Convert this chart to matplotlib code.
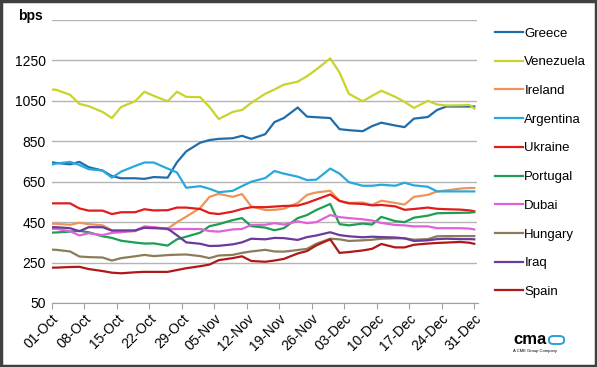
import matplotlib
matplotlib.use("Agg")
import matplotlib.pyplot as plt
import matplotlib.dates as mdates
from matplotlib.patches import Rectangle, FancyBboxPatch
import pandas as pd

plt.rcParams['font.family'] = ['Liberation Sans', 'DejaVu Sans']

# sample dates (2009), Oct 1 .. Dec 31
days = [0, 1, 4, 6, 8, 11, 13, 15, 18, 20, 22, 25, 27, 29, 32, 34, 36, 39, 41, 43,
        46, 48, 50, 53, 55, 57, 60, 62, 64, 67, 69, 71, 74, 76, 78, 81, 83, 85, 88, 90, 91]
dates = pd.Timestamp('2009-10-01') + pd.to_timedelta(days, unit='D')

greece = [746, 743, 736, 748, 722, 705, 678, 667, 667, 664, 673, 670, 746, 800, 843, 856, 862, 865, 877, 862,
          885, 945, 965, 1017, 972, 969, 965, 910, 905, 900, 925, 942, 928, 920, 962, 970, 1005, 1022, 1022, 1022, 1022]
venezuela = [1106, 1105, 1080, 1035, 1024, 995, 965, 1020, 1048, 1095, 1075, 1048, 1095, 1070, 1068, 1020, 960, 995, 1005, 1040,
             1085, 1106, 1130, 1145, 1172, 1205, 1260, 1190, 1085, 1048, 1075, 1100, 1070, 1045, 1015, 1050, 1032, 1027, 1028, 1030, 1012]
ireland = [442, 442, 437, 447, 440, 434, 410, 405, 405, 428, 425, 417, 450, 477, 520, 575, 590, 575, 589, 528,
           510, 511, 516, 545, 585, 597, 605, 555, 545, 547, 535, 556, 545, 537, 575, 585, 602, 607, 616, 619, 619]
argentina = [734, 740, 748, 733, 712, 705, 670, 700, 728, 745, 745, 715, 696, 620, 628, 615, 598, 605, 628, 650,
             668, 703, 690, 675, 658, 660, 715, 690, 648, 630, 630, 635, 630, 645, 632, 625, 602, 602, 602, 602, 602]
ukraine = [543, 543, 543, 518, 507, 507, 490, 499, 499, 514, 508, 509, 522, 522, 515, 495, 490, 502, 515, 524,
           524, 527, 530, 532, 545, 562, 587, 555, 543, 540, 533, 535, 528, 511, 515, 522, 516, 514, 512, 508, 504]
portugal = [398, 399, 403, 407, 400, 380, 372, 358, 349, 344, 345, 334, 365, 378, 398, 430, 440, 460, 470, 430,
            423, 410, 420, 470, 485, 510, 540, 440, 434, 443, 438, 476, 455, 450, 472, 482, 494, 495, 496, 497, 499]
dubai = [417, 417, 405, 384, 395, 386, 397, 400, 408, 428, 425, 414, 416, 416, 416, 406, 403, 414, 416, 436,
         437, 445, 438, 454, 445, 450, 485, 475, 470, 464, 458, 446, 436, 434, 429, 429, 420, 420, 420, 418, 414]
hungary = [314, 313, 305, 280, 277, 275, 260, 272, 281, 288, 282, 287, 289, 290, 282, 272, 285, 288, 298, 305,
           313, 305, 304, 312, 318, 343, 368, 365, 357, 360, 363, 368, 370, 370, 363, 366, 380, 381, 381, 381, 381]
iraq = [425, 425, 420, 405, 425, 425, 408, 409, 409, 422, 420, 418, 385, 350, 343, 332, 333, 340, 350, 368,
        365, 372, 371, 362, 376, 384, 400, 386, 380, 375, 378, 376, 374, 370, 357, 360, 366, 368, 366, 366, 365]
spain = [225, 225, 228, 229, 218, 208, 200, 197, 202, 204, 204, 204, 213, 222, 232, 240, 262, 272, 281, 258,
         254, 260, 268, 295, 307, 335, 365, 298, 302, 310, 318, 342, 325, 325, 338, 344, 347, 349, 352, 348, 343]

names = ['Greece', 'Venezuela', 'Ireland', 'Argentina', 'Ukraine',
         'Portugal', 'Dubai', 'Hungary', 'Iraq', 'Spain']
series = [greece, venezuela, ireland, argentina, ukraine,
          portugal, dubai, hungary, iraq, spain]
colors = ['#1f6dab', '#c9d32b', '#ef9458', '#27a9df', '#e01c1c',
          '#1e9e52', '#e062d6', '#8a7d5a', '#6a3a9c', '#b01818']

fig = plt.figure(figsize=(5.97, 3.67), dpi=100)
ax = fig.add_axes([51.5 / 597, 1 - 303 / 367, 426 / 597, 283 / 367])

lines = []
for name, vals, c in zip(names, series, colors):
    ln, = ax.plot(dates, vals, color=c, lw=1.6, label=name, solid_joinstyle='round')
    lines.append(ln)

start = pd.Timestamp('2009-10-01')
ax.set_xlim(start, start + pd.Timedelta(days=91.7))
ax.set_ylim(50, 1450)
ax.set_yticks([50, 250, 450, 650, 850, 1050, 1250, 1450])
ax.set_yticklabels(['50', '250', '450', '650', '850', '1050', '1250', ''])
ax.grid(axis='y', color='#b4b4b4', lw=1)
ax.set_axisbelow(True)

ticks = [start + pd.Timedelta(days=7 * k) for k in range(14)]
ax.set_xticks(ticks)
ax.xaxis.set_major_formatter(mdates.DateFormatter('%d-%b'))
for s in ['top', 'right', 'left']:
    ax.spines[s].set_visible(False)
ax.spines['bottom'].set_color('#a0a0a0')
ax.tick_params(axis='y', length=0, labelsize=10, pad=4)
ax.tick_params(axis='x', length=4, color='#a0a0a0', labelsize=10, pad=2)
plt.setp(ax.get_xticklabels(), rotation=45, ha='right', rotation_mode='anchor')

fig.text(18 / 597, 1 - 16 / 367, 'bps', fontsize=10, fontweight='bold', va='center')

leg = fig.legend(lines, names, loc='upper left', bbox_to_anchor=(490 / 597, 1 - 22 / 367),
                 frameon=False, fontsize=9.5, handlelength=2.1, handletextpad=0.1,
                 labelspacing=1.25, borderaxespad=0)

# logo
fig.text(530 / 597, 1 - 340 / 367, 'cma', fontsize=12, fontweight='bold', ha='center', va='center')
fig.patches.append(FancyBboxPatch((549 / 597, 1 - 344 / 367), 15 / 597, 8 / 367,
                                  boxstyle='round,pad=0,rounding_size=0.008', fill=False,
                                  ec='#2aa0d8', lw=1.4, transform=fig.transFigure))
fig.text(535 / 597, 1 - 351 / 367, 'A CME Group Company', fontsize=3, ha='center', va='center')

# outer border
fig.patches.append(Rectangle((0.002, 0.003), 0.996, 0.994, fill=False, ec='#404040', lw=2.5,
                             transform=fig.transFigure))

fig.savefig('out.png', dpi=100)
